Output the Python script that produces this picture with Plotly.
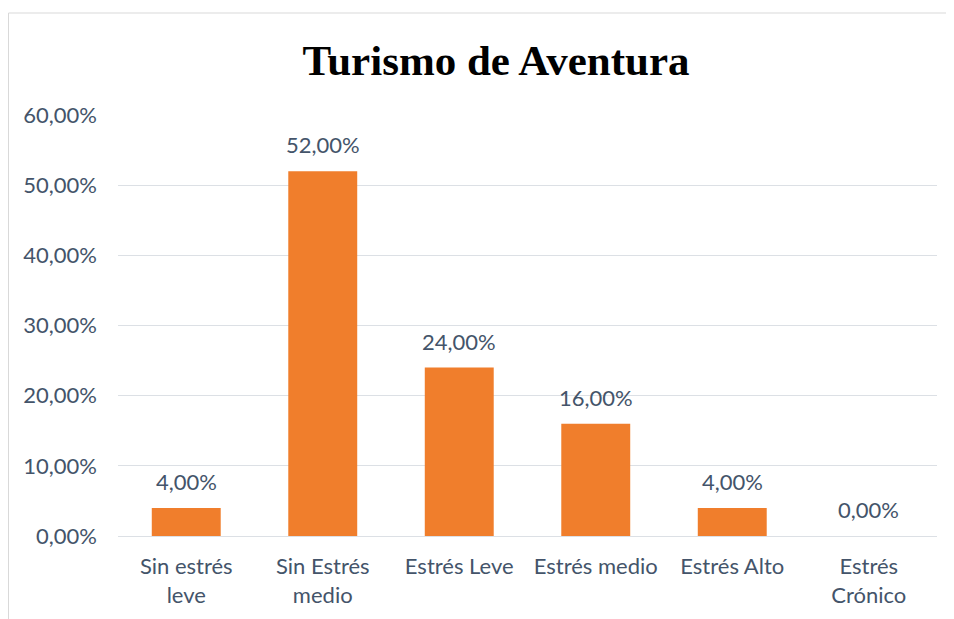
import plotly.graph_objects as go

categories = ["Sin estrés<br>leve", "Sin Estrés<br>medio", "Estrés Leve", "Estrés medio", "Estrés Alto", "Estrés<br>Crónico"]
values = [0.04, 0.52, 0.24, 0.16, 0.04, 0.0]
value_labels = ["4,00%", "52,00%", "24,00%", "16,00%", "4,00%", "0,00%"]
y_ticks = [0, 0.1, 0.2, 0.3, 0.4, 0.5, 0.6]

TEXT = "#44546A"
FONT = "Lato"
GRID = "#DCE0E5"

# page body has an 8px margin; figure sized to fit the window
W, H = 946, 611
L, R, T, B = 110, 17, 107, 83
pw, ph = W - L - R, H - T - B

fig = go.Figure()
fig.add_trace(go.Bar(
    x=categories, y=values,
    marker=dict(color="#F07E2C", line=dict(width=0)),
    width=0.505,
    hoverinfo="skip",
))

for c, v, t in zip(categories, values, value_labels):
    fig.add_annotation(x=c, y=v, text=t, showarrow=False, yanchor="bottom",
                       yshift=11, font=dict(family=FONT, size=22, color=TEXT))

fig.add_shape(type="rect", xref="paper", yref="paper",
              x0=(0.5 - L) / pw, x1=(W + 10 - L) / pw,
              y0=-(B + 10) / ph, y1=(ph + T - 5) / ph,
              line=dict(color="#D9D9D9", width=1), fillcolor="rgba(0,0,0,0)", layer="below")

fig.update_layout(
    width=W, height=H,
    margin=dict(l=L, r=R, t=T, b=B),
    paper_bgcolor="white", plot_bgcolor="white",
    separators=",.",
    showlegend=False,
    title=dict(text="<b>Turismo de Aventura</b>", x=488 / W, xref="container", xanchor="center",
               y=1 - 52 / H, yanchor="middle",
               font=dict(family="Liberation Serif", size=43, color="black")),
    xaxis=dict(showgrid=False, showline=False, zeroline=False, ticks="",
               tickfont=dict(family=FONT, size=22, color=TEXT), ticklabelstandoff=15),
    yaxis=dict(range=[0, 0.6], tickvals=y_ticks, tickformat=".2%",
               showgrid=True, gridcolor=GRID, gridwidth=1,
               zeroline=True, zerolinecolor=GRID, zerolinewidth=1,
               showline=False, ticks="",
               tickfont=dict(family=FONT, size=22, color=TEXT), ticklabelstandoff=20),
)

fig.write_html("out.html")
